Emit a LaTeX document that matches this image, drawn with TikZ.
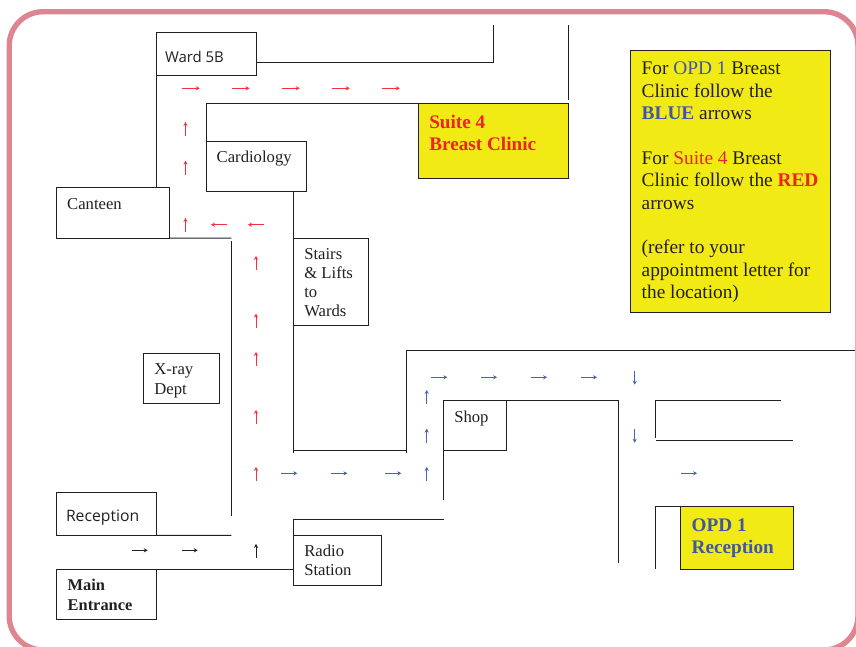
\documentclass[tikz,border=0pt]{standalone}
\usepackage{fontspec}
\setmainfont{Liberation Serif}
\newfontfamily\humanist{Open Sans}
\usetikzlibrary{arrows.meta}
\definecolor{inkdark}{HTML}{231F20}
\definecolor{pinkframe}{HTML}{DD8691}
\definecolor{signyellow}{HTML}{F2EA14}
\definecolor{signred}{HTML}{EE2229}
\definecolor{signblue}{HTML}{3F57A6}
\definecolor{arrowred}{HTML}{F5303C}
\definecolor{arrowblue}{HTML}{4A62B4}
\newdimen\px \px=0.75pt
% optional style, name, x, y, w, h, text inset, first baseline offset, text
\newcommand\room[9][]{%
  \node[roombox,#1] (#2) at (#3,#4)
    {\parbox[c][#6\px][t]{#5\px}{\raggedright\leftskip=#7\px\relax
      \vspace*{\dimexpr #8\px-16\px\relax}\rule{0pt}{16\px}#9}};}
\tikzset{
  roombox/.style={draw=inkdark,line width=1\px,inner sep=0pt,outer sep=0pt,anchor=north west,
    text=inkdark,font=\fontsize{12.5pt}{14.4pt}\selectfont},
  signbox/.style={fill=signyellow,font=\fontsize{14.5pt}{16.8pt}\selectfont},
  wide/.style={font=\fontsize{14.4pt}{16.6pt}\selectfont\bfseries},
  sansroom/.style={font=\humanist\fontsize{11.2pt}{14pt}\selectfont},
  wall/.style={draw=inkdark,line width=1\px},
  way/.style={line width=0.6\px,-{Stealth[length=3pt,width=3.2pt,inset=1.1pt]}},
  wayred/.style={way,draw=arrowred},
  wayblue/.style={way,draw=arrowblue},
  wayblack/.style={way,draw=inkdark}
}
\newcommand\arrowR[4][wayred]{\draw[#1] (#2,#3) -- +(#4,0);}
\newcommand\arrowU[3][wayred]{\draw[#1] (#2,#3+14) -- (#2,#3);}
\newcommand\arrowD[3][wayblue]{\draw[#1] (#2,#3) -- (#2,#3+14);}
\newcommand\arrowL[3][wayred]{\draw[#1] (#2,#3) -- +(-16,0);}
\begin{document}
\begin{tikzpicture}[x=0.75pt,y=-0.75pt]
\useasboundingbox (0,0) rectangle (856,646);
\draw[pinkframe,line width=5.4\px,rounded corners=25.5pt] (9.2,11.7) rectangle (858,650);

% rooms
\room[sansroom]{ward}{156.3}{32.7}{100.4}{43}{8.7}{29.6}{Ward 5B}
\room{canteen}{56.7}{187.7}{112.3}{50.3}{10.5}{21.6}{Canteen}
\room{cardio}{206.3}{141.3}{100}{50}{10.4}{21.4}{Cardiology}
\room{stairs}{293.7}{238}{74.6}{87.3}{10.6}{21.3}{Stairs\\ \& Lifts\\ to\\ Wards}
\room{xray}{143.7}{353.3}{75.3}{50}{10.7}{21.5}{X-ray\\ Dept}
\room[sansroom,font=\humanist\fontsize{11.8pt}{14pt}\selectfont]{recep}{56.3}{492.7}{100}{42.6}{9.7}{28.6}{Reception}
\room{radio}{293.7}{535}{87.3}{50}{10.6}{21}{Radio\\ Station}
\room[font=\fontsize{12.3pt}{15pt}\selectfont\bfseries]{mainent}{56.7}{569.3}{99.6}{49.7}{11}{20.7}{Main\\ Entrance}
\room{shop}{443.3}{400}{62.7}{50.3}{11}{22.3}{Shop}
\room[signbox,wide,text=signred]{suite}{418.3}{103.7}{150}{75}{11}{24.3}{Suite 4\\ Breast Clinic}
\room[signbox,wide,text=signblue]{opd}{680.7}{506.7}{112.6}{62.6}{11}{24.7}{OPD 1\\ Reception}
\room[signbox]{legend}{630.7}{50.7}{200}{262}{11}{24}{For \textcolor{signblue}{OPD 1} Breast\\
Clinic follow the\\
\textcolor{signblue}{\textbf{BLUE}} arrows\\
\mbox{}\\
For \textcolor{signred}{Suite 4} Breast\\
Clinic follow the \textcolor{signred}{\textbf{RED}}\\
arrows\\
\mbox{}\\
(refer to your\\
appointment letter for\\
the location)}

% free wall ends
\coordinate (a1) at (493.3,25);
\coordinate (a2) at (493.3,62.7);
\coordinate (a3) at (256.7,62.7);
\coordinate (b1) at (568.3,25);
\coordinate (b2) at (568.3,100);
\coordinate (c1) at (206.3,103.7);
\coordinate (d1) at (231.3,238);
\coordinate (e1) at (231.3,241);
\coordinate (e2) at (231.3,515.7);
\coordinate (f1) at (293.7,453);
\coordinate (f2) at (293.7,450.3);
\coordinate (f3) at (406,450.3);
\coordinate (f4) at (406,453);
\coordinate (f5) at (406,350.3);
\coordinate (f6) at (855,350.3);
\coordinate (g1) at (618.3,400);
\coordinate (g2) at (618.3,562.7);
\coordinate (h1) at (443.3,500.3);
\coordinate (i1) at (293.7,519.3);
\coordinate (i2) at (443.7,519.3);
\coordinate (j1) at (231.3,535.3);
\coordinate (k1) at (293.7,569.3);
\coordinate (l1) at (655.7,437.7);
\coordinate (l2) at (655.7,400);
\coordinate (l3) at (780.7,400);
\coordinate (m1) at (655.7,440.7);
\coordinate (m2) at (793.3,440.7);
\coordinate (n1) at (655.7,569.3);
\coordinate (n2) at (655.7,506.7);

% walls
\draw[wall] (a3) -- (a2) -- (a1);
\draw[wall] (b1) -- (b2);
\draw[wall] (ward.south west) -- (ward.south west |- canteen.north);
\draw[wall] (canteen.south east) -- (d1);
\draw[wall] (e1) -- (e2);
\draw[wall] (cardio.north west) -- (c1) -- (suite.north west);
\draw[wall] (stairs.north west) -- (stairs.north west |- cardio.south);
\draw[wall] (stairs.south west) -- (f1);
\draw[wall] (f2) -- (f3);
\draw[wall] (f4) -- (f5) -- (f6);
\draw[wall] (shop.north east) -- (g1) -- (g2);
\draw[wall] (shop.south west) -- (h1);
\draw[wall] (radio.north west) -- (i1) -- (i2);
\draw[wall] (recep.south east) -- (j1);
\draw[wall] (mainent.north east) -- (k1);
\draw[wall] (l1) -- (l2) -- (l3);
\draw[wall] (m1) -- (m2);
\draw[wall] (n1) -- (n2) -- (opd.north west);

% red arrows
\foreach \xx in {181.7,231.5,281.7,331.7,381.7} {\arrowR{\xx}{88.3}{18}}
\arrowU{185.5}{122}
\arrowU{185.5}{160.7}
\arrowU{185.5}{218}
\arrowL{227}{224.7}
\arrowL{264}{224.7}
\foreach \yy in {256,313.7,352,410,467} {\arrowU{256}{\yy}}

% blue arrows
\foreach \xx in {281.3,331.3,385.3,431.3,481,531,581,681} {
  \pgfmathsetmacro\yrow{\xx<400 || \xx>650 ? 473.3 : 377.3}
  \arrowR[wayblue]{\xx}{\yrow}{16}}
\foreach \yy in {390,428.7,467} {\arrowU[wayblue]{426.7}{\yy}}
\arrowD{634.7}{370.7}
\arrowD{634.7}{428.7}

% black arrows
\arrowR[wayblack]{131.7}{550.3}{16}
\arrowR[wayblack]{181.7}{550.3}{16}
\arrowU[wayblack]{256}{544}
\end{tikzpicture}
\end{document}
